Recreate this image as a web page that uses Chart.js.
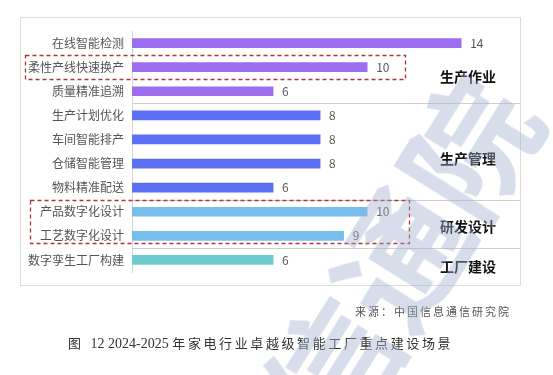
<!DOCTYPE html>
<html>
<head>
<meta charset="utf-8">
<script src="https://cdn.jsdelivr.net/npm/chart.js@4.4.1/dist/chart.umd.min.js"></script>
<style>
  html, body { margin: 0; padding: 0; background: #fff; }
  #wrap { position: relative; width: 553px; height: 375px; overflow: hidden; }
  #chart { position: absolute; left: 0; top: 0; }
  .src { position: absolute; right: 42px; top: 303px; font: 11px "Noto Sans CJK SC", sans-serif; letter-spacing: 2px; color: #555; }
  .cap { position: absolute; left: 68px; top: 333px; font: 14px "Liberation Serif", "Noto Sans CJK SC", serif; color: #333; white-space: nowrap; }
  .cap .zh { font-size: 13px; letter-spacing: 2.6px; }
  .wm { position: absolute; left: 200px; top: 160px; font: bold 130px "Noto Sans CJK SC", sans-serif; color: rgba(160, 174, 205, 0.42); transform: rotate(-58deg); transform-origin: center; white-space: nowrap; pointer-events: none; }
</style>
</head>
<body>
<div id="wrap">
  <canvas id="chart" width="553" height="375"></canvas>
  <div class="src">来源：中国信息通信研究院</div>
  <div class="cap"><span class="zh">图</span>&nbsp; 12 2024-2025 <span class="zh">年家电行业卓越级智能工厂重点建设场景</span></div>
  <div class="wm">信通院</div>
</div>
<script>
const scenes = ["在线智能检测", "柔性产线快速换产", "质量精准追溯", "生产计划优化", "车间智能排产", "仓储智能管理", "物料精准配送", "产品数字化设计", "工艺数字化设计", "数字孪生工厂构建"];
const counts = [14, 10, 6, 8, 8, 8, 6, 10, 9, 6];
const groupNames = ["生产作业", "生产管理", "研发设计", "工厂建设"];
const groupStart = [0, 3, 7, 9];
const groupEnd = [2, 6, 8, 9];
const groupLabelAt = [1.4, 4.8, 7.6, 9.3];
const highlighted = [[1, 1], [7, 8]];

const barColors = [
    "#9d6df0", "#9d6df0", "#9d6df0",
    "#5b6ff4", "#5b6ff4", "#5b6ff4", "#5b6ff4",
    "#76bfec", "#76bfec",
    "#6ccbd0",
];

const extras = {
    id: "extras",
    beforeDraw(chart) {
        const ctx = chart.ctx;
        ctx.save();
        ctx.strokeStyle = "#dcdcdc";
        ctx.lineWidth = 1;
        ctx.strokeRect(20.5, 17.5, 500, 268);
        ctx.restore();
    },
    afterDatasetsDraw(chart) {
        const ctx = chart.ctx;
        const y = chart.scales.y;
        const area = chart.chartArea;
        const meta = chart.getDatasetMeta(0);
        ctx.save();

        // group separators
        ctx.strokeStyle = "#cfcfcf";
        ctx.lineWidth = 1;
        for (let g = 0; g < groupEnd.length - 1; g++) {
            const py = Math.round((y.getPixelForValue(groupEnd[g]) + y.getPixelForValue(groupEnd[g] + 1)) / 2) + 0.5;
            ctx.beginPath();
            ctx.moveTo(area.left, py);
            ctx.lineTo(520, py);
            ctx.stroke();
        }

        // value labels
        ctx.fillStyle = "#595959";
        ctx.font = "12px 'Noto Sans CJK SC', sans-serif";
        ctx.textBaseline = "middle";
        ctx.textAlign = "left";
        meta.data.forEach((bar, i) => {
            ctx.fillText(String(counts[i]), bar.x + 9, bar.y);
        });

        // group names
        ctx.fillStyle = "#111";
        ctx.font = "bold 14px 'Noto Sans CJK SC', sans-serif";
        ctx.textAlign = "center";
        groupNames.forEach((name, g) => {
            ctx.fillText(name, 468, y.getPixelForValue(groupLabelAt[g]));
        });

        // highlight boxes
        ctx.strokeStyle = "#b0353b";
        ctx.lineWidth = 1.3;
        ctx.setLineDash([4, 3]);
        highlighted.forEach(([a, b], k) => {
            const top = y.getPixelForValue(a) - 12;
            const bottom = y.getPixelForValue(b) + (k === 0 ? 12 : 7);
            const left = k === 0 ? 25 : 30;
            const right = k === 0 ? 405 : 409;
            ctx.strokeRect(left + 0.5, Math.round(top) + 0.5, right - left, Math.round(bottom - top));
        });
        ctx.restore();
    },
};

new Chart(document.getElementById("chart"), {
    type: "bar",
    data: {
        labels: scenes,
        datasets: [
            {
                data: counts,
                backgroundColor: barColors,
                barThickness: 9,
            },
        ],
    },
    options: {
        indexAxis: "y",
        responsive: false,
        animation: false,
        layout: {
            padding: { left: 20, right: 33, top: 31, bottom: 103 },
        },
        scales: {
            x: {
                display: false,
                min: 0,
                max: 16.5,
            },
            y: {
                afterFit(scale) {
                    scale.width = 112;
                },
                grid: { display: false, drawTicks: false },
                border: { display: true, color: "#d6d6d6" },
                ticks: {
                    padding: 8,
                    color: "#555",
                    font: { family: "'Noto Sans CJK SC', sans-serif", size: 12 },
                },
            },
        },
        plugins: {
            legend: { display: false },
            tooltip: { enabled: false },
        },
    },
    plugins: [extras],
});
</script>
</body>
</html>
